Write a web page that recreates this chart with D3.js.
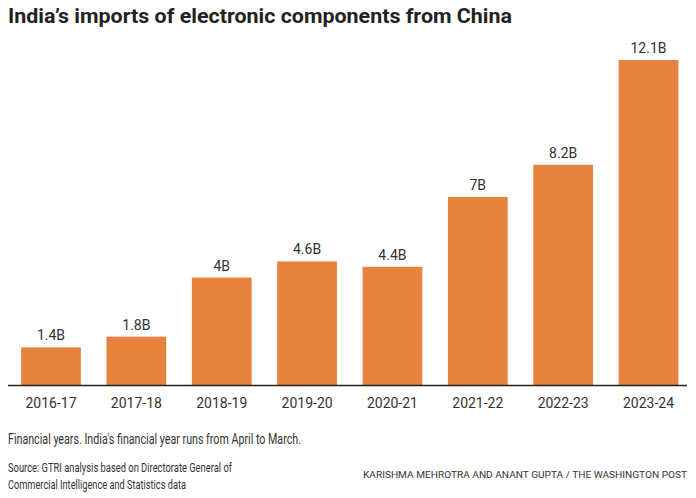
<!DOCTYPE html>
<html><head><meta charset="utf-8">
<script src="https://cdn.jsdelivr.net/npm/d3@7"></script>
<style>body{margin:0;background:#fff}svg{display:block}text{font-family:Roboto,"Liberation Sans",sans-serif}</style>
</head><body>
<svg id="c" width="696" height="498"></svg>
<script>
const categories = ["2016-17","2017-18","2018-19","2019-20","2020-21","2021-22","2022-23","2023-24"];
const values = [1.4,1.8,4,4.6,4.4,7,8.2,12.1];
const valueLabels = ["1.4B","1.8B","4B","4.6B","4.4B","7B","8.2B","12.1B"];

const svg = d3.select("#c");
const baseline = 385;
const x = d3.scaleBand().domain(categories).range([8.3, 691.2]).paddingInner(0.3).paddingOuter(0.15);
const y = d3.scaleLinear().domain([0, 12.1]).range([baseline, 60]);

function fitText(sel, w){ sel.attr("textLength", w).attr("lengthAdjust","spacingAndGlyphs"); }

svg.append("text").attr("x",8).attr("y",23).attr("font-size",20).attr("font-weight",700)
  .attr("fill","#222").text("India’s imports of electronic components from China").call(fitText,504);

svg.append("g").selectAll("rect").data(values).join("rect")
  .attr("x",(d,i)=>x(categories[i])).attr("width",x.bandwidth())
  .attr("y",d=>y(d)).attr("height",d=>baseline-y(d)).attr("fill","#E8833F");

svg.append("g").selectAll("text").data(values).join("text")
  .attr("x",(d,i)=>x(categories[i])+x.bandwidth()/2).attr("y",d=>y(d)-7)
  .attr("text-anchor","middle").attr("font-size",14).attr("fill","#333")
  .text((d,i)=>valueLabels[i]);

const ax = svg.append("g").attr("transform",`translate(0,${baseline})`)
  .call(d3.axisBottom(x).tickSize(0).tickPadding(13));
ax.select(".domain").remove();
ax.selectAll("text").attr("font-size",14).attr("fill","#333").attr("font-family","Roboto,'Liberation Sans',sans-serif");
svg.append("line").attr("x1",8).attr("x2",687).attr("y1",baseline+0.5).attr("y2",baseline+0.5)
  .attr("stroke","#222").attr("stroke-width",1.3);

svg.append("text").attr("x",8).attr("y",444).attr("font-size",14).attr("fill","#333")
  .text("Financial years. India's financial year runs from April to March.").call(fitText,293);
svg.append("text").attr("x",8).attr("y",472).attr("font-size",13).attr("fill","#333")
  .text("Source: GTRI analysis based on Directorate General of").call(fitText,224);
svg.append("text").attr("x",8).attr("y",489).attr("font-size",13).attr("fill","#333")
  .text("Commercial Intelligence and Statistics data").call(fitText,178);
svg.append("text").attr("x",363).attr("y",478).attr("font-size",9.8).attr("fill","#333")
  .text("KARISHMA MEHROTRA AND ANANT GUPTA / THE WASHINGTON POST").call(fitText,324);
</script>
</body></html>
